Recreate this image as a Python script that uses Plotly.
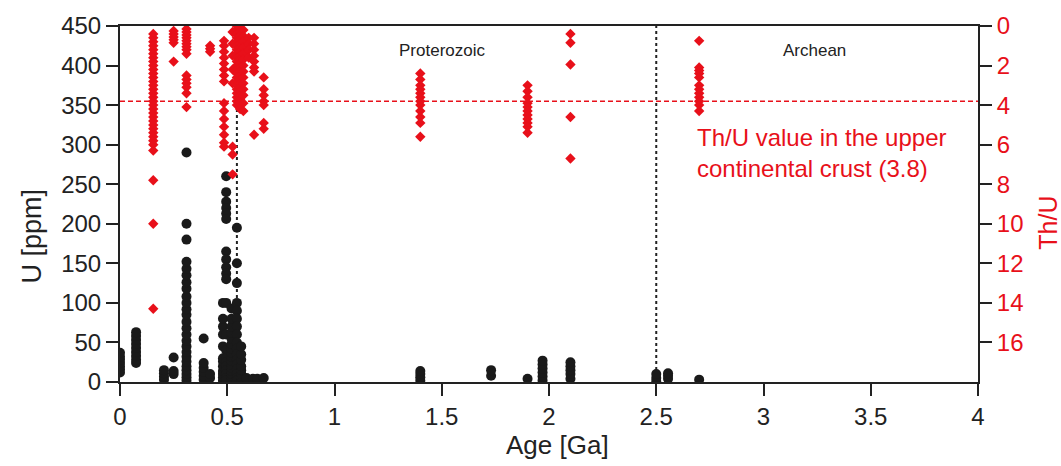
import plotly.graph_objects as go

# ---- Data: U [ppm] (black circles) ----
u_age = (
    [0.0]*7 + [0.075]*9 + [0.205]*4 + [0.25]*3 + [0.31]*25 + [0.39]*6 + [0.42]*2
    + [0.48]*12 + [0.495]*21 + [0.52]*16 + [0.545]*17 + [0.565]*8
    + [0.59]*2 + [0.62, 0.64, 0.67]
    + [1.40]*4 + [1.73]*2 + [1.90] + [1.97]*6 + [2.10]*5
    + [2.50]*3 + [2.555]*3 + [2.70]
)
u_ppm = (
    [12, 16, 20, 24, 28, 32, 37]
    + [24, 28, 33, 38, 43, 48, 53, 58, 63]
    + [3, 7, 11, 15]
    + [10, 14, 31]
    + [2, 6, 10, 15, 20, 26, 32, 38, 45, 52, 60, 68, 76, 85, 92, 100, 108, 118, 126, 135, 143, 152, 180, 200, 290]
    + [3, 8, 13, 18, 24, 55]
    + [5, 10]
    + [2, 6, 10, 14, 20, 26, 30, 45, 60, 70, 80, 100]
    + [260, 240, 228, 220, 213, 206, 165, 155, 145, 137, 130, 100, 60, 40, 30, 25, 20, 15, 10, 5, 2]
    + [2, 6, 10, 14, 18, 22, 27, 32, 37, 42, 48, 55, 62, 70, 80, 93]
    + [195, 150, 125, 100, 90, 80, 70, 60, 50, 42, 35, 28, 22, 16, 10, 5, 2]
    + [2, 6, 10, 15, 20, 28, 35, 45]
    + [3, 5] + [4, 4, 5]
    + [2, 6, 10, 14]
    + [8, 15]
    + [4]
    + [2, 7, 12, 17, 22, 27]
    + [4, 10, 15, 20, 25]
    + [1, 5, 10]
    + [4, 8, 11]
    + [3]
)

# ---- Data: Th/U (red diamonds, right axis) ----
th_age = (
    [0.155]*33 + [0.25]*6 + [0.31]*15 + [0.42]*3 + [0.485]*15 + [0.525]*8
    + [0.545]*21 + [0.56]*21 + [0.575]*14 + [0.60]*4 + [0.625]*8 + [0.67]*7
    + [1.40]*12 + [1.90]*11 + [2.10]*5 + [2.70]*12
)
th_u = (
    [0.4, 0.6, 0.8, 1.0, 1.2, 1.4, 1.6, 1.8, 2.0, 2.2, 2.4, 2.6, 2.8, 3.0, 3.2, 3.4, 3.6,
     3.8, 4.0, 4.2, 4.4, 4.6, 4.8, 5.0, 5.2, 5.4, 5.6, 5.8, 6.0, 6.3, 7.8, 10.0, 14.3]
    + [0.25, 0.4, 0.55, 0.7, 0.85, 1.8]
    + [0.15, 0.3, 0.45, 0.6, 0.75, 0.9, 1.05, 1.2, 1.4, 2.5, 2.7, 2.9, 3.1, 3.4, 4.1]
    + [1.0, 1.15, 1.3]
    + [0.75, 1.0, 1.3, 1.6, 1.9, 2.2, 2.5, 2.8, 3.9, 4.3, 4.7, 5.1, 5.5, 5.9, 6.1]
    + [0.3, 0.9, 1.5, 2.2, 2.9, 6.1, 6.5, 7.5]
    + [0.0, 0.2, 0.4, 0.6, 0.8, 1.0, 1.2, 1.4, 1.6, 1.8, 2.0, 2.2, 2.4, 2.6, 2.8, 3.0, 3.2, 3.4, 3.6, 3.8, 4.0]
    + [0.1, 0.3, 0.5, 0.7, 0.9, 1.1, 1.3, 1.5, 1.7, 1.9, 2.1, 2.3, 2.5, 2.7, 2.9, 3.1, 3.3, 3.5, 3.7, 3.9, 4.2]
    + [0.2, 0.5, 0.8, 1.1, 1.4, 1.7, 2.0, 2.3, 2.6, 2.9, 3.2, 3.5, 3.9, 4.3]
    + [0.6, 0.9, 1.2, 1.6]
    + [0.6, 0.9, 1.2, 1.5, 1.8, 2.1, 2.3, 5.5]
    + [2.6, 3.2, 3.5, 3.8, 4.0, 4.9, 5.2]
    + [2.4, 2.7, 3.0, 3.2, 3.4, 3.6, 3.8, 4.0, 4.3, 4.6, 4.9, 5.6]
    + [3.0, 3.3, 3.6, 3.9, 4.1, 4.3, 4.5, 4.7, 4.9, 5.1, 5.4]
    + [0.4, 0.85, 1.95, 4.6, 6.7]
    + [0.75, 2.1, 2.25, 2.4, 2.6, 3.0, 3.2, 3.4, 3.6, 3.8, 4.0, 4.3]
)

crust_thu = 3.8
boundaries = [0.545, 2.5]
x_ticks = [0, 0.5, 1, 1.5, 2, 2.5, 3, 3.5, 4]
thu_ticks = [0, 2, 4, 6, 8, 10, 12, 14, 16]

RED = "#e8101a"
INK = "#222222"
FONT = "Liberation Sans, Arial, sans-serif"

W, H = 1061, 466
M_L, M_R, M_T, M_B = 120, 83, 20, 84
PLOT_W = W - M_L - M_R
PLOT_H = H - M_T - M_B


def px_to_paper(px, py):
    """pixel (from top-left) -> paper coords"""
    return (px - M_L) / PLOT_W, (H - py - M_B) / PLOT_H


fig = go.Figure()
fig.add_trace(go.Scatter(
    x=u_age, y=u_ppm, mode="markers", yaxis="y",
    marker=dict(symbol="circle", size=10, color="#1a1a1a"), showlegend=False))
fig.add_trace(go.Scatter(
    x=th_age, y=th_u, mode="markers", yaxis="y2",
    marker=dict(symbol="diamond", size=8, color=RED), showlegend=False))

for b in boundaries:
    fig.add_shape(type="line", xref="x", yref="y", x0=b, x1=b, y0=0, y1=450,
                  line=dict(color=INK, width=2, dash="dot"), layer="below")
fig.add_shape(type="line", xref="x", yref="y2", x0=0, x1=4, y0=crust_thu, y1=crust_thu,
              line=dict(color=RED, width=1.5, dash="5px,3px"), layer="below")

fig.add_annotation(x=1.5, y=419, xref="x", yref="y", text="Proterozoic", showarrow=False,
                   font=dict(size=17, color=INK, family=FONT))
fig.add_annotation(x=3.24, y=419, xref="x", yref="y", text="Archean", showarrow=False,
                   font=dict(size=17, color=INK, family=FONT))
fig.add_annotation(x=2.68, y=290, xref="x", yref="y", xanchor="left", align="left",
                   text="Th/U value in the upper<br>continental crust (3.8)", showarrow=False,
                   font=dict(size=24, color=RED, family=FONT))

# Axis titles placed as annotations (pixel positions from the reference)
for text, (px, py), size, color, angle in [
    ("U [ppm]", (32, 234), 27, INK, -90),
    ("Age [Ga]", (557, 446), 26, INK, 0),
    ("Th/U", (1048, 220), 25, RED, -90),
]:
    ax, ay = px_to_paper(px, py)
    fig.add_annotation(x=ax, y=ay, xref="paper", yref="paper", xanchor="center", yanchor="middle",
                       text=text, textangle=angle, showarrow=False,
                       font=dict(size=size, color=color, family=FONT))

axis_common = dict(showgrid=False, zeroline=False, showline=True, linecolor=INK, linewidth=2,
                   ticks="outside", ticklen=12, tickwidth=2, tickcolor=INK)

fig.update_layout(
    width=W, height=H,
    margin=dict(l=M_L, r=M_R, t=M_T, b=M_B),
    paper_bgcolor="white", plot_bgcolor="white",
    font=dict(family=FONT, color=INK),
    xaxis=dict(range=[0, 4], tickvals=x_ticks, mirror=True,
               tickfont=dict(size=24, color=INK), **axis_common),
    yaxis=dict(range=[0, 450], dtick=50, mirror=True,
               tickfont=dict(size=24, color=INK), **axis_common),
    yaxis2=dict(range=[18, 0], tickvals=thu_ticks, overlaying="y", side="right",
                tickfont=dict(size=24, color=RED), **axis_common),
)

fig.write_html("out.html")
